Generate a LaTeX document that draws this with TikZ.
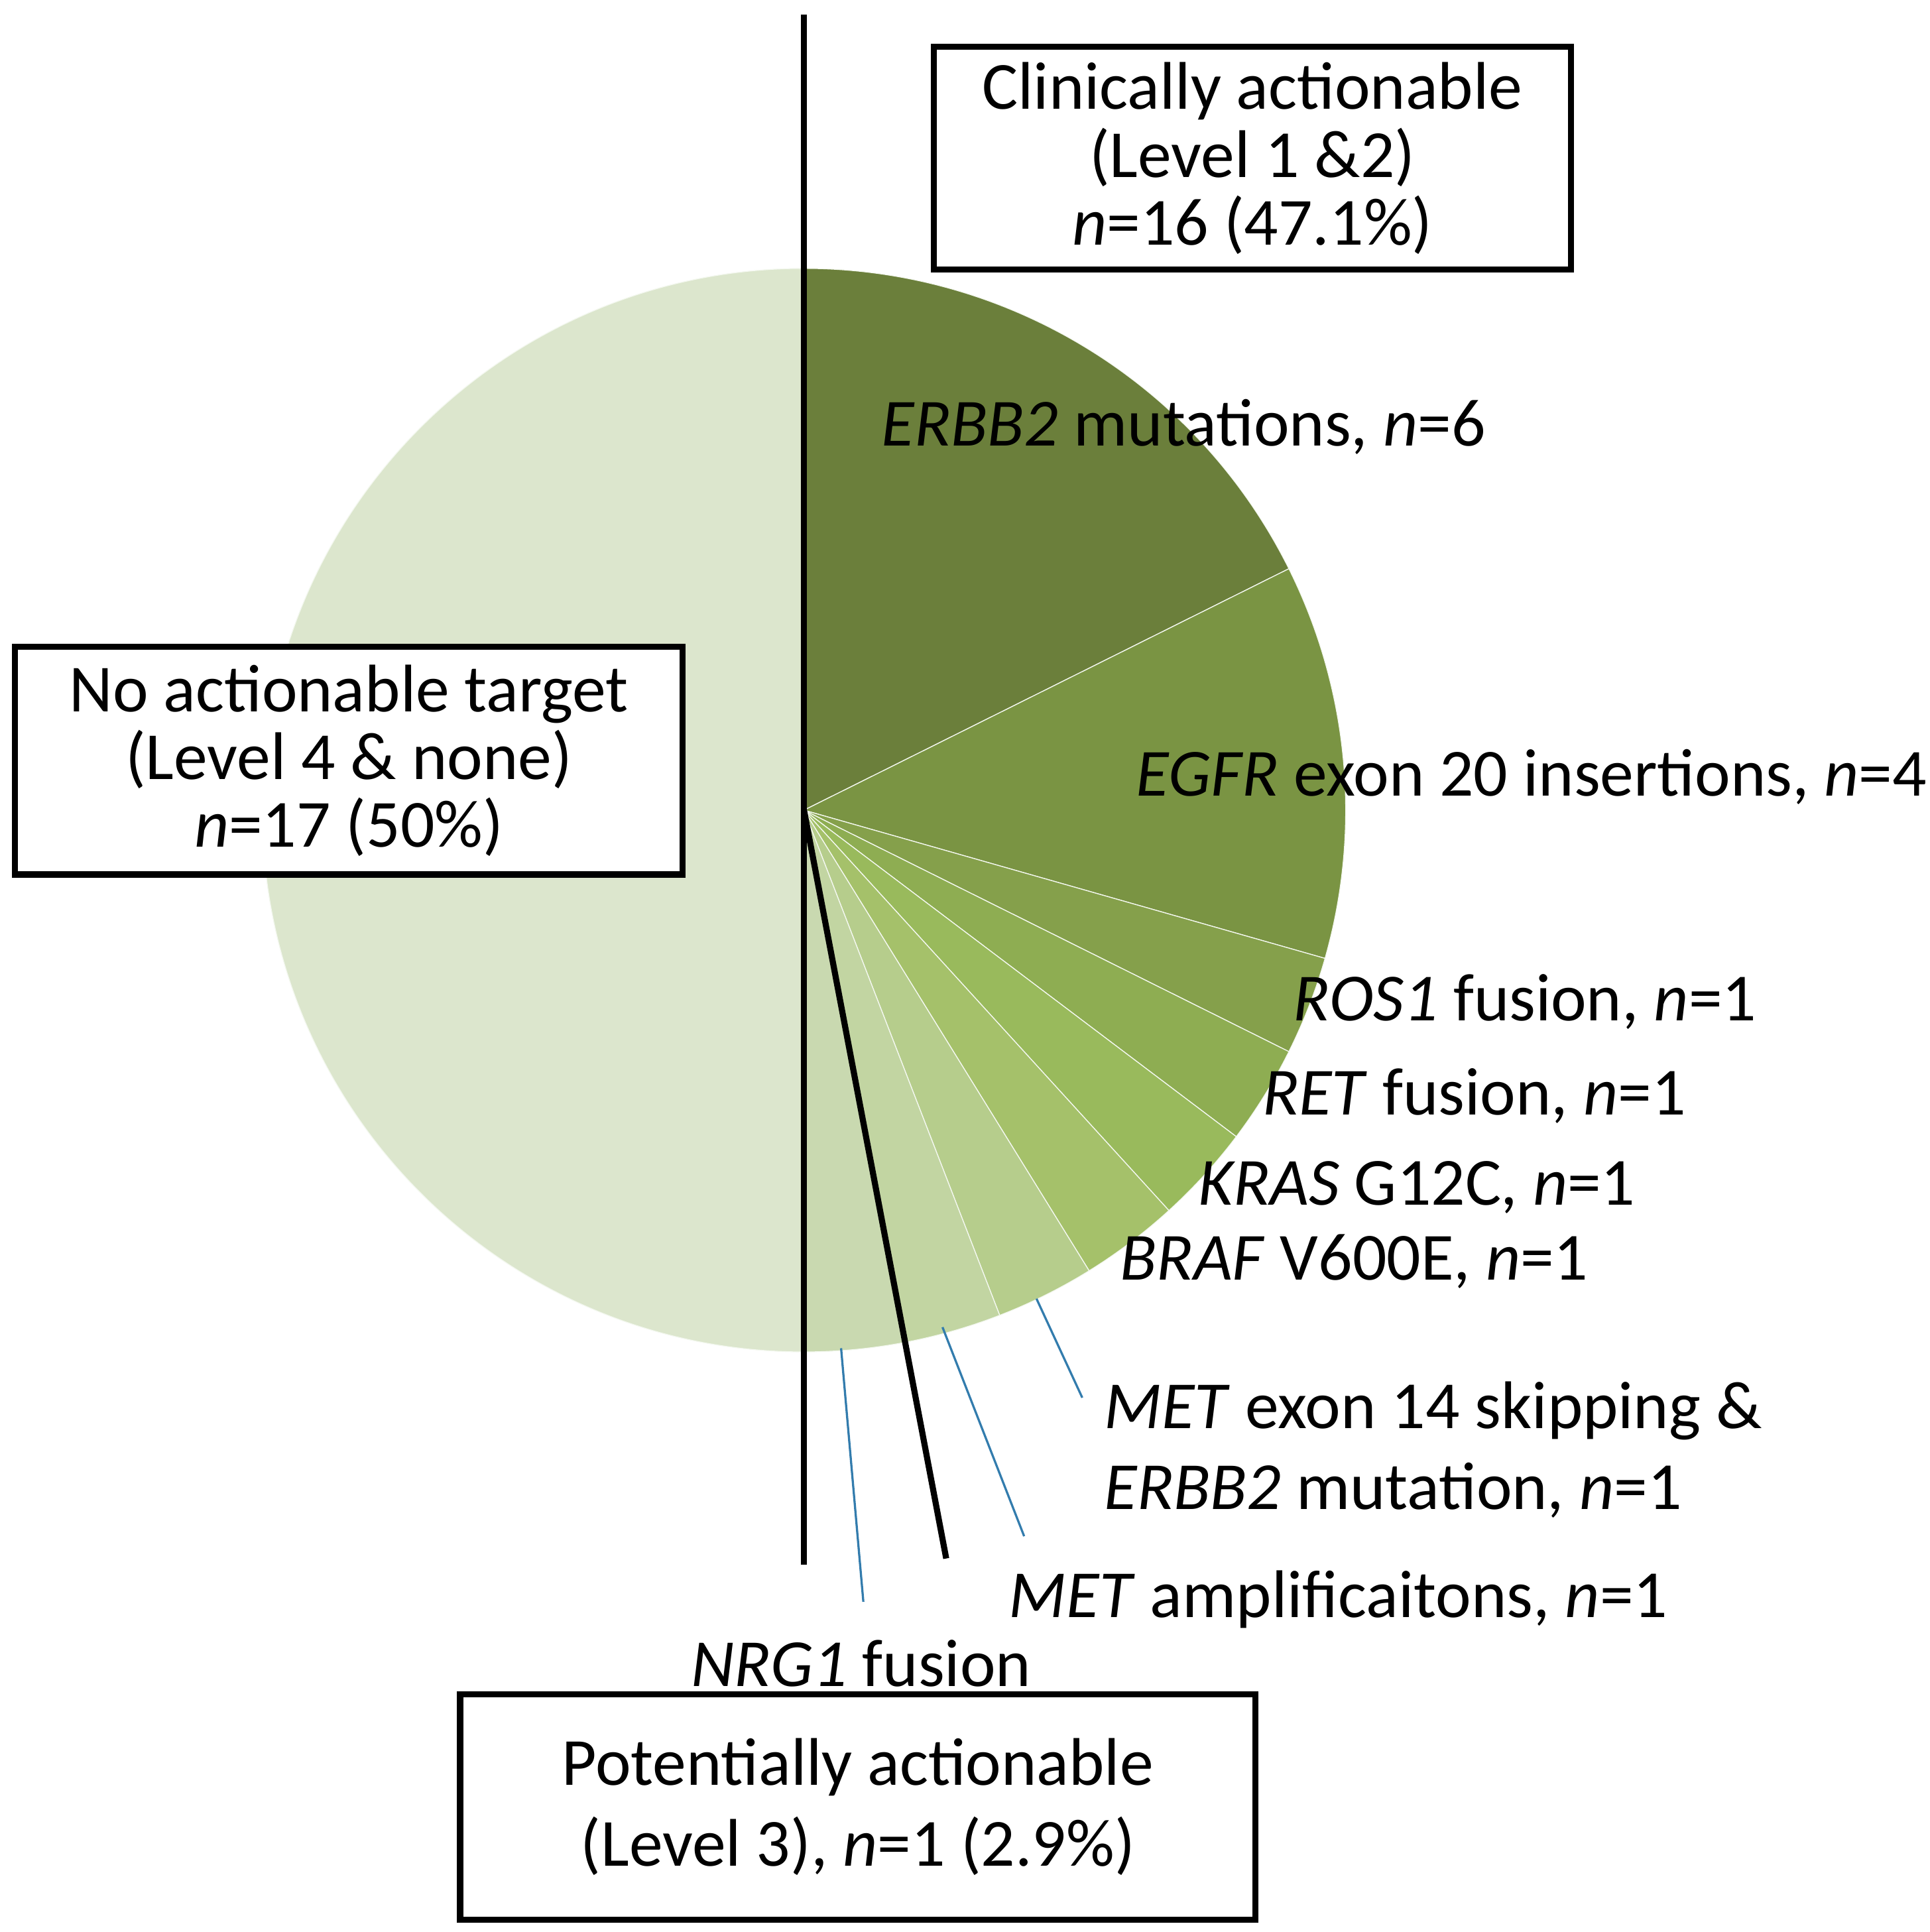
\documentclass[tikz,border=0pt]{standalone}
\usepackage{fontspec}
\setmainfont{Carlito}
\begin{document}
\begin{tikzpicture}
\tikzset{
  lbl/.style={anchor=west,inner sep=0pt,font=\fontsize{15.5pt}{15.6pt}\selectfont},
  box/.style={draw=black,line width=1.4pt,fill=white,align=center,inner sep=0pt,font=\fontsize{15.5pt}{15.6pt}\selectfont},
  lead/.style={draw=blue!40!cyan!60!black!80,line width=0.5pt},
  sl/.style={draw=white!70!c10,line width=0.2pt}
}
\useasboundingbox (0,0) rectangle (15.6,-15.62);
\definecolor{c1}{HTML}{6B7F3B}
\definecolor{c2}{HTML}{7A9443}
\definecolor{c3}{HTML}{85A04B}
\definecolor{c4}{HTML}{8EAD52}
\definecolor{c5}{HTML}{99BA5C}
\definecolor{c6}{HTML}{A5C16A}
\definecolor{c7}{HTML}{B6CD8C}
\definecolor{c8}{HTML}{C2D5A2}
\definecolor{c9}{HTML}{C9D9B0}
\definecolor{c10}{HTML}{DCE6CD}
\begin{scope}[shift={(6.5,-6.55)}]
\def\R{4.38}
\foreach \a/\b/\c in {90/26.47/c1,26.47/-15.88/c2,-15.88/-26.47/c3,-26.47/-37.06/c4,-37.06/-47.65/c5,-47.65/-58.24/c6,-58.24/-68.82/c7,-68.82/-79.41/c8,-79.41/-90/c9,-90/-270/c10}{
  \filldraw[fill=\c,sl] (0,0) -- (\a:\R) arc[start angle=\a,end angle=\b,radius=\R] -- cycle;
}
\coordinate (ctr) at (0,0);
\end{scope}
\coordinate (vtop) at (6.5,-0.12);
\coordinate (vbot) at (6.5,-12.65);
\draw[line width=1.4pt] (vtop) -- (vbot);
\coordinate (tend) at (7.65,-12.6);
\draw[line width=1.4pt] (ctr) -- (tend);
% leaders
\coordinate (l1a) at (8.38,-10.5); \coordinate (l1b) at (8.75,-11.3);
\coordinate (l2a) at (7.62,-10.73); \coordinate (l2b) at (8.28,-12.42);
\coordinate (l3a) at (6.8,-10.9); \coordinate (l3b) at (6.98,-12.95);
\draw[lead] (l1a) -- (l1b);
\draw[lead] (l2a) -- (l2b);
\draw[lead] (l3a) -- (l3b);
% labels
\node[lbl] (t1) at (7.12,-3.45) {\textit{ERBB2} mutations, \textit{n}=6};
\node[lbl] (t2) at (9.18,-6.28) {\textit{EGFR} exon 20 insertions, \textit{n}=4};
\node[lbl] (t3) at (10.45,-8.1) {\textit{ROS1} fusion, \textit{n}=1};
\node[lbl] (t4) at (10.2,-8.86) {\textit{RET} fusion, \textit{n}=1};
\node[lbl] (t5) at (9.68,-9.6) {\textit{KRAS} G12C, \textit{n}=1};
\node[lbl] (t6) at (9.05,-10.2) {\textit{BRAF} V600E, \textit{n}=1};
\node[lbl,align=left] (t7) at (8.92,-11.72) {\textit{MET} exon 14 skipping \&\\[3pt]\textit{ERBB2} mutation, \textit{n}=1};
\node[lbl] (t8) at (8.15,-12.93) {\textit{MET} amplificaitons, \textit{n}=1};
\node[lbl] (t9) at (5.58,-13.45) {\textit{NRG1} fusion};
% boxes
\node[box,minimum width=5.15cm,minimum height=1.8cm] (b1) at (10.125,-1.28) {Clinically actionable\\(Level 1 \&2)\\\textit{n}=16 (47.1\%)};
\node[box,minimum width=5.4cm,minimum height=1.84cm] (b2) at (2.82,-6.15) {No actionable target\\(Level 4 \& none)\\\textit{n}=17 (50\%)};
\node[box,minimum width=6.43cm,minimum height=1.82cm] (b3) at (6.935,-14.61) {Potentially actionable\\[3pt](Level 3), \textit{n}=1 (2.9\%)};
\end{tikzpicture}
\end{document}
